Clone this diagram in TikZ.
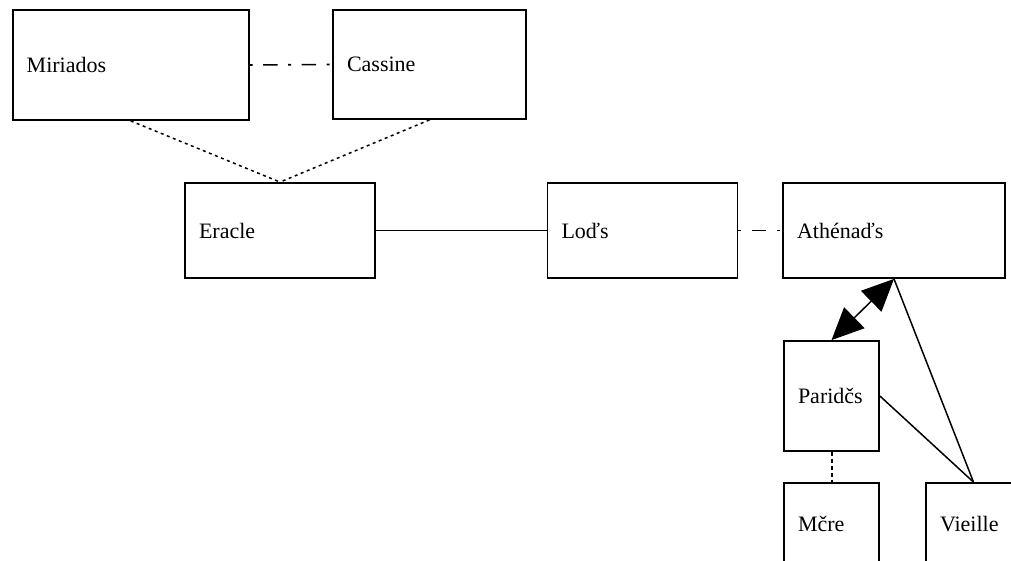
\documentclass[tikz,border=0pt]{standalone}
\usepackage{fontspec}
\setmainfont{Liberation Serif}
\usetikzlibrary{arrows.meta}
\tikzset{
    entitybox/.style={draw,line width=1.8pt,rectangle,align=left,inner xsep=14pt,inner ysep=0pt,
        font=\fontsize{22}{26}\selectfont},
    solidlink/.style={line width=1.5pt},
    dotlink/.style={line width=1.5pt,dash pattern=on 3pt off 3.5pt},
    dashlink/.style={line width=1.5pt,dash pattern=on 3pt off 10.5pt on 14.5pt off 10.5pt},
    dashdotlink/.style={line width=1.6pt,dash pattern=on 3pt off 10.5pt on 14.5pt off 10.5pt},
    bothvec/.style={{Triangle[length=32pt,width=29pt]}-{Triangle[length=32pt,width=29pt]},line width=1.5pt}
}

\begin{document}
\begin{tikzpicture}[x=1pt,y=-1pt]
    \clip (0,0) rectangle (1011,561);
    \fill[white] (0,0) rectangle (1011,561);
    % Top row
    \node[entitybox,minimum width=236pt,minimum height=110pt,text width=208pt] (mir) at (130.7,65) {Miriados};
    \node[entitybox,minimum width=193pt,minimum height=109pt,text width=165pt] (cas) at (429.5,64.5) {Cassine};
    % Middle row
    \node[entitybox,minimum width=190pt,minimum height=95pt,text width=162pt] (era) at (280,230.5) {Eracle};
    \node[entitybox,minimum width=190pt,minimum height=95pt,text width=162pt] (lod) at (642.5,230.5) {Loďs};
    \node[entitybox,minimum width=222pt,minimum height=95pt,text width=194pt] (ath) at (894,230.5) {Athénaďs};
    % Lower boxes
    \node[entitybox,minimum width=95pt,minimum height=110pt,text width=67pt] (par) at (831.5,396) {Paridčs};
    \node[entitybox,minimum width=95pt,minimum height=82pt,text width=67pt] (mcr) at (831.5,524) {Mčre};
    \node[entitybox,minimum width=95pt,minimum height=82pt,text width=67pt] (vie) at (973.5,524) {Vieille};
    % Links
    \draw[dashdotlink] (mir.east) -- (cas.west);
    \draw[dotlink] (mir.south) -- (era.north);
    \draw[dotlink] (cas.south) -- (era.north);
    \draw[solidlink] (era.east) -- (lod.west);
    \draw[dashlink] (lod.east) -- (ath.west);
    \draw[bothvec] (ath.south) -- (par.north);
    \draw[solidlink] (ath.south) -- (vie.north);
    \draw[solidlink] (par.east) -- (vie.north);
    \draw[dotlink,line width=2pt,dash pattern=on 4pt off 3pt] (par.south) -- (mcr.north);
\end{tikzpicture}
\end{document}
